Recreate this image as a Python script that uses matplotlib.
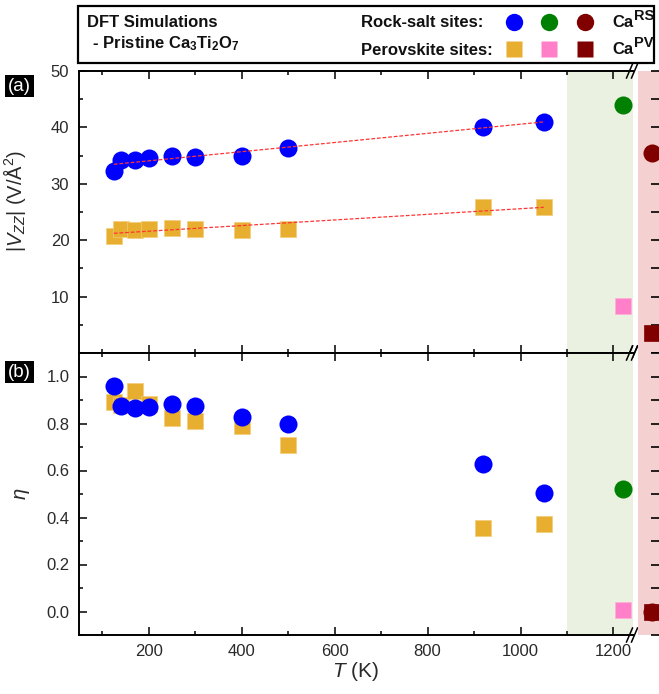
import matplotlib
matplotlib.use('Agg')
import matplotlib.pyplot as plt
import numpy as np
from matplotlib.patches import Rectangle
from matplotlib.ticker import MultipleLocator, FixedLocator

plt.rcParams['font.family'] = ['Liberation Sans', 'DejaVu Sans']
plt.rcParams['mathtext.fontset'] = 'custom'
plt.rcParams['mathtext.rm'] = 'Liberation Sans'
plt.rcParams['mathtext.it'] = 'Liberation Sans:italic'
plt.rcParams['mathtext.bf'] = 'Liberation Sans:bold'

# Pristine Ca3Ti2O7, DFT runs at several temperatures (K)
temps = np.array([125, 140, 170, 200, 250, 300, 400, 500, 920, 1050])
vzz_rs = np.array([32.2, 34.3, 34.3, 34.5, 35.0, 34.7, 34.9, 36.4, 40.1, 41.0])
vzz_pv = np.array([20.8, 22.0, 21.8, 22.0, 22.1, 22.0, 21.8, 22.0, 25.8, 25.9])
eta_rs = np.array([0.96, 0.873, 0.866, 0.869, 0.882, 0.876, 0.828, 0.798, 0.629, 0.505])
eta_pv = np.array([0.89, 0.88, 0.939, 0.882, 0.822, 0.81, 0.79, 0.708, 0.356, 0.373])

# high temperature phase (green band)
t_high = [1220]
vzz_high_rs, vzz_high_pv = [43.9], [8.4]
eta_high_rs, eta_high_pv = [0.523], [0.005]

# Ca sites (pink band, after the axis break)
t_ca = [1300]
vzz_ca_rs, vzz_ca_pv = [35.5], [3.5]
eta_ca_rs, eta_ca_pv = [0.0], [0.0]

vzz_ticks = [10, 20, 30, 40, 50]

BLUE = '#0000ff'
GOLD = '#e8ae30'
GREEN = '#008000'
PINK = '#ff80c8'
DRED = '#800000'
GREEN_BG = '#ebf1e0'
PINK_BG = '#f5d0d1'
FIT = '#ff3333'

W, H = 659, 694
fig = plt.figure(figsize=(W / 100, H / 100), dpi=100)


def px_box(left, top, right, bottom):
    return [left / W, 1 - bottom / H, (right - left) / W, (bottom - top) / H]


ax_a = fig.add_axes(px_box(79, 71, 633, 353))
ax_b = fig.add_axes(px_box(79, 353, 633, 635))
ax_a2 = fig.add_axes(px_box(638, 71, 660, 353))
ax_b2 = fig.add_axes(px_box(638, 353, 660, 635))


def style_main(ax, ylim, major, minor):
    ax.set_xlim(50, 1242)
    ax.set_ylim(*ylim)
    ax.axvspan(1100, 1242, color=GREEN_BG, lw=0, zorder=0)
    ax.spines['right'].set_visible(False)
    for s in ('left', 'top', 'bottom'):
        ax.spines[s].set_linewidth(1.4)
    ax.xaxis.set_major_locator(MultipleLocator(200))
    ax.xaxis.set_minor_locator(MultipleLocator(100))
    ax.yaxis.set_major_locator(MultipleLocator(major))
    ax.yaxis.set_minor_locator(MultipleLocator(minor))
    ax.tick_params(which='both', direction='in', top=True, right=False,
                   width=1.1, labelsize=12, labelcolor='#2a2a2a')
    ax.tick_params(which='major', length=6)
    ax.tick_params(which='minor', length=3.2)
    ax.tick_params(axis='x', pad=6.5)
    ax.tick_params(axis='y', pad=7)


def style_side(ax, ylim, step):
    ax.set_xlim(1270, 1317)
    ax.set_ylim(*ylim)
    ax.set_facecolor(PINK_BG)
    for s in ('left', 'top', 'bottom'):
        ax.spines[s].set_visible(False)
    ax.spines['right'].set_linewidth(1.4)
    ax.set_xticks([])
    ax.yaxis.set_major_locator(MultipleLocator(step))
    ax.tick_params(axis='y', direction='in', left=False, right=True,
                   labelleft=False, length=6.5, width=1.2)


def break_marks(ax):
    # two small slashes across top and bottom spine at the right end
    w_px, h_px = 554, 282
    for yc in (0, 1):
        for off in (-2.5, 2.5):
            xc = 1.0 + (off - 1) / w_px
            ax.plot([xc - 3 / w_px, xc + 3 / w_px],
                    [yc - 7 / h_px, yc + 7 / h_px],
                    color='black', lw=1.1, transform=ax.transAxes,
                    clip_on=False, zorder=10)


style_main(ax_a, (0, 50), 10, 5)
style_main(ax_b, (-0.1, 1.1), 0.2, 0.1)
style_side(ax_a2, (0, 50), 5)
style_side(ax_b2, (-0.1, 1.1), 0.1)
ax_a.yaxis.set_major_locator(FixedLocator(vzz_ticks))
ax_a.tick_params(axis='x', labelbottom=False)

circ = dict(marker='o', ms=13, ls='none', mec='none')
sq = dict(marker='s', ms=12, ls='none', mew=0.5)

# panel (a): |Vzz|
ax_a.plot(temps, vzz_pv, color=GOLD, mec='#f2cc7a', zorder=3, **sq)
ax_a.plot(temps, vzz_rs, color=BLUE, zorder=3, **circ)
t_fit = np.array([temps.min(), temps.max()])
for vals in (vzz_rs, vzz_pv):
    coef = np.polyfit(temps, vals, 1)
    ax_a.plot(t_fit, np.polyval(coef, t_fit), color=FIT, lw=0.9,
              dashes=(3, 1.5), zorder=4)
ax_a.plot(t_high, vzz_high_rs, color=GREEN, zorder=3, **circ)
ax_a.plot(t_high, vzz_high_pv, color=PINK, mec='#ffb0dd', zorder=3, **sq)
ax_a2.plot(t_ca, vzz_ca_rs, color=DRED, clip_on=False, **circ)
ax_a2.plot(t_ca, vzz_ca_pv, color=DRED, mec=DRED, **sq)

# panel (b): eta
ax_b.plot(temps, eta_pv, color=GOLD, mec='#f2cc7a', zorder=3, **sq)
ax_b.plot(temps, eta_rs, color=BLUE, zorder=3, **circ)
ax_b.plot(t_high, eta_high_rs, color=GREEN, zorder=3, **circ)
ax_b.plot(t_high, eta_high_pv, color=PINK, mec='#ffb0dd', zorder=3, **sq)
ax_b2.plot(t_ca, eta_ca_pv, color=DRED, mec=DRED, **sq)
ax_b2.plot(t_ca, eta_ca_rs, color=DRED, **circ)

break_marks(ax_a)
break_marks(ax_b)

ax_a.set_ylabel(r'|$\mathit{V}_{\mathit{ZZ}}$| (V/Å$^2$)', fontsize=14.5,
                color='#2a2a2a')
ax_a.yaxis.set_label_coords(-0.092, 0.54)
ax_b.set_ylabel(r'$\eta$', fontsize=14.5, color='#2a2a2a')
ax_b.yaxis.set_label_coords(-0.085, 0.5)
ax_b.set_xlabel(r'$\mathit{T}$ (K)', fontsize=15, labelpad=1, color='#2a2a2a')

# legend box and panel tags drawn on a pixel overlay
ov = fig.add_axes([0, 0, 1, 1], zorder=20)
ov.set_xlim(0, W)
ov.set_ylim(H, 0)
ov.axis('off')
ov.add_patch(Rectangle((78, 6), 576, 57, fill=False, lw=1.6, ec='black'))
bold = dict(fontsize=12, fontweight='bold', va='baseline', color='#111111')
sup = dict(fontsize=10.5, fontweight='bold', va='baseline', color='#111111')
ov.text(87, 26.7, 'DFT Simulations', **bold)
ov.text(88, 48, r' - Pristine Ca$_{\mathbf{3}}$Ti$_{\mathbf{2}}$O$_{\mathbf{7}}$', **bold)
ov.text(361, 27, 'Rock-salt sites:', **bold)
ov.text(361, 55, 'Perovskite sites:', **bold)
ov.text(612, 26.7, 'Ca', **bold)
ov.text(634, 19.5, 'RS', **sup)
ov.text(612, 54, 'Ca', **bold)
ov.text(634, 47, 'PV', **sup)
for x, c in zip((514, 549, 585), (BLUE, GREEN, DRED)):
    ov.plot(x, 21.7, 'o', ms=12.5, color=c, mec='none')
for x, c in zip((514, 549, 585), (GOLD, PINK, DRED)):
    ov.plot(x, 49.3, 's', ms=12, color=c, mec='none')

tag = dict(color='white', fontsize=13.5, ha='center', va='center',
           bbox=dict(boxstyle='square,pad=0.15', fc='black', ec='none'))
ov.text(19.5, 86, '(a)', **tag)
ov.text(19.5, 372, '(b)', **tag)

fig.savefig('out.png', dpi=100)
